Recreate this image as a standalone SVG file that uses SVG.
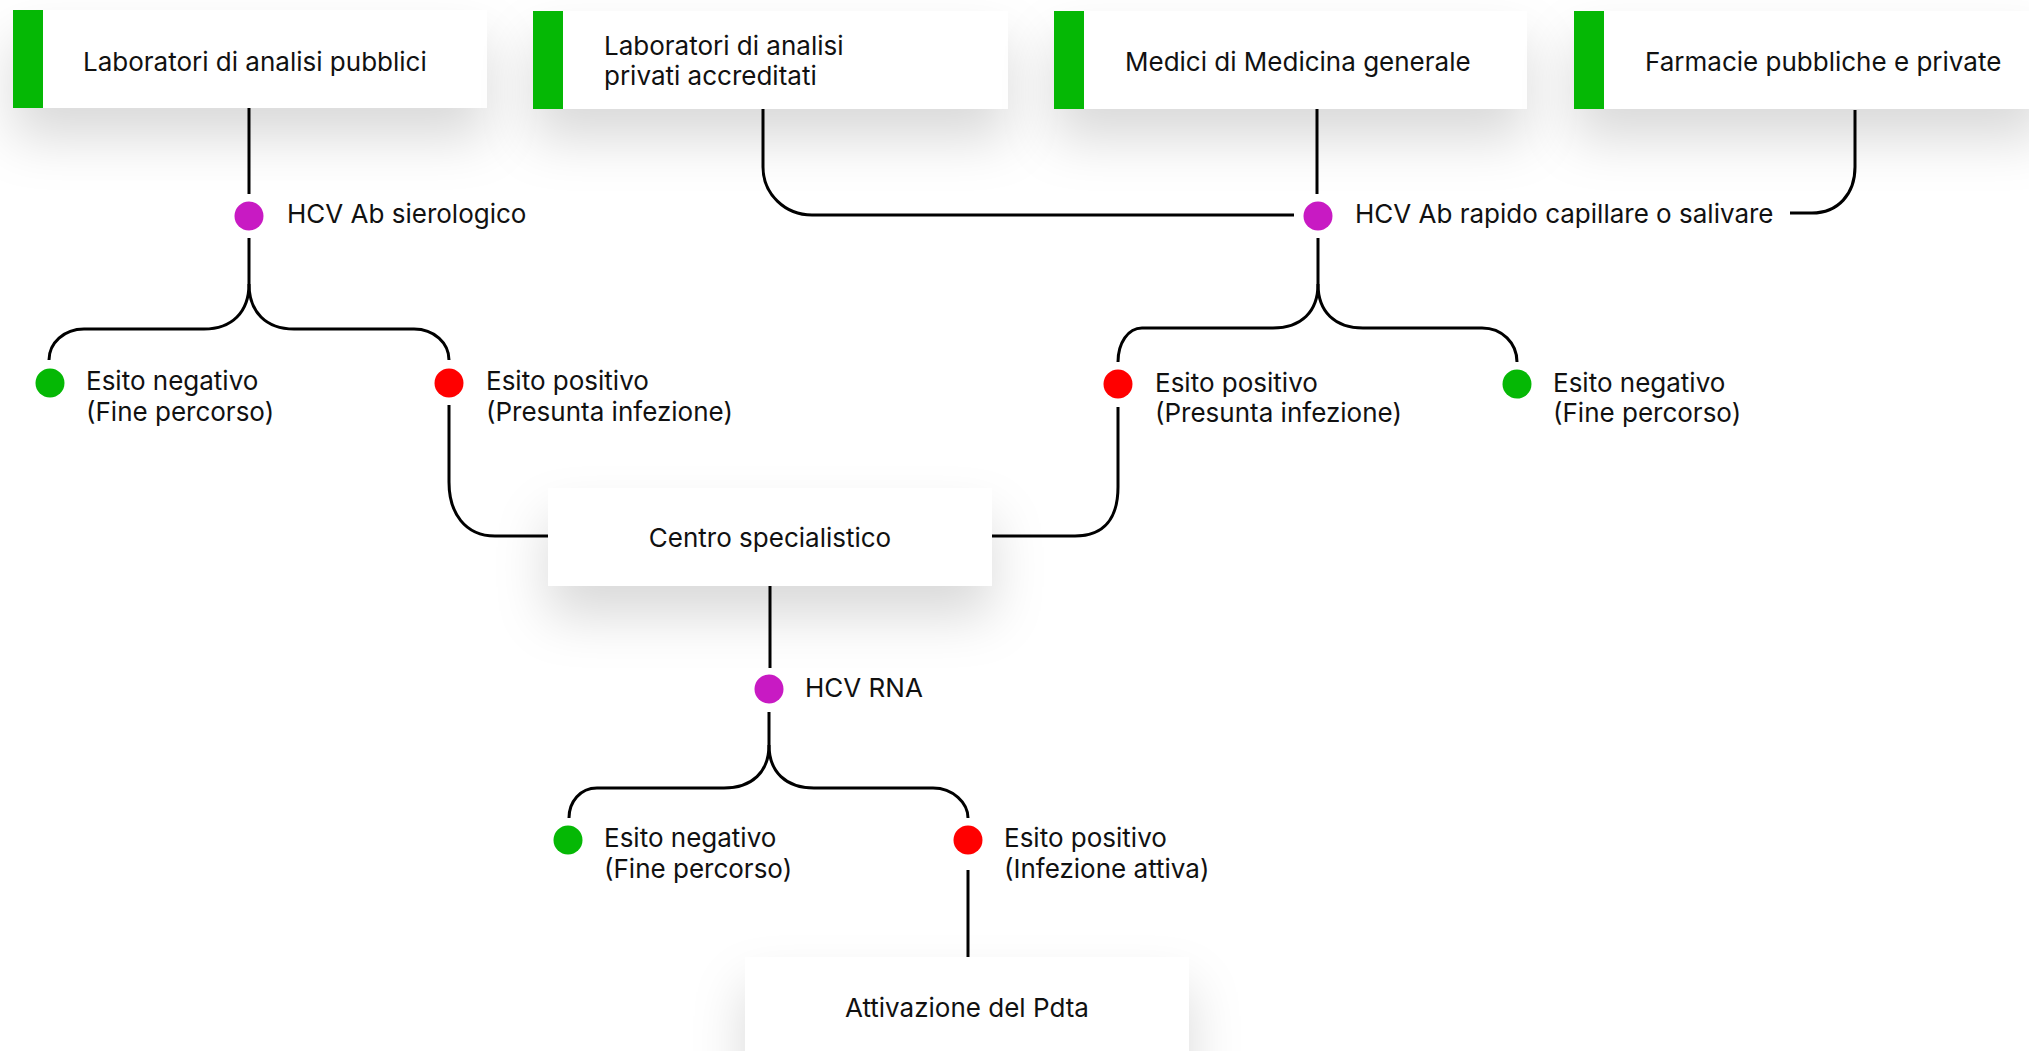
<svg xmlns="http://www.w3.org/2000/svg" width="2029" height="1051" viewBox="0 0 2029 1051">
<style>
.box{fill:#ffffff;filter:url(#sh)}
.bar{fill:#05B805}
.t{font-family:Inter,"Noto Sans","Liberation Sans",sans-serif;font-size:26px;fill:#111111}
.mid{text-anchor:middle}
.c{fill:none;stroke:#000000;stroke-width:3;stroke-linecap:butt}
.mag{fill:#C81AC3}
.red{fill:#FF0000}
.grn{fill:#05B805}
</style>
<defs>
<filter id="sh" x="-20%" y="-30%" width="140%" height="230%">
<feDropShadow dx="0" dy="30" stdDeviation="26" flood-color="#000000" flood-opacity="0.15"/>
</filter>
</defs>
<rect x="0" y="0" width="2029" height="1051" fill="#ffffff"/>

<g id="connectors">
<path class="c" d="M249,108 V194"/>
<path class="c" d="M249,238 V284 C249,312 232,329 204,329 H84 C64,329 49,343 49,360"/>
<path class="c" d="M249,284 C249,312 266,329 294,329 H414 C434,329 449,343 449,360"/>
<path class="c" d="M449,405 V482 C449,513 465,536 495,536 H548"/>
<path class="c" d="M1118,407 V487 C1118,517 1105,536 1075,536 H992"/>
<path class="c" d="M763,109 V167 C763,194 785,215 812,215 H1294"/>
<path class="c" d="M1317,108 V194"/>
<path class="c" d="M1855,110 V167 C1855,194 1838,213 1812,213 H1790"/>
<path class="c" d="M1318,238 V284 C1318,312 1301,328 1273,328 H1142 C1128,328 1118,343 1118,362"/>
<path class="c" d="M1318,284 C1318,312 1335,328 1363,328 H1482 C1502,328 1517,343 1517,362"/>
<path class="c" d="M770,586 V668"/>
<path class="c" d="M769,712 V745 C769,772 752,788 724,788 H597 C580,788 569,802 569,818"/>
<path class="c" d="M769,745 C769,772 786,788 814,788 H933 C953,788 968,803 968,818"/>
<path class="c" d="M968,870 V957"/>
</g>

<g id="box-lab-pubblici">
<rect class="box" x="13" y="10" width="474" height="98"/>
<rect class="bar" x="13" y="10" width="30" height="98"/>
<text class="t" x="83" y="71">Laboratori di analisi pubblici</text>
</g>
<g id="box-lab-privati">
<rect class="box" x="533" y="11" width="475" height="98"/>
<rect class="bar" x="533" y="11" width="30" height="98"/>
<text class="t" x="604" y="55">Laboratori di analisi</text>
<text class="t" x="604" y="85">privati accreditati</text>
</g>
<g id="box-medici">
<rect class="box" x="1054" y="11" width="473" height="98"/>
<rect class="bar" x="1054" y="11" width="30" height="98"/>
<text class="t" x="1125" y="71">Medici di Medicina generale</text>
</g>
<g id="box-farmacie">
<rect class="box" x="1574" y="11" width="470" height="98"/>
<rect class="bar" x="1574" y="11" width="30" height="98"/>
<text class="t" x="1645" y="71">Farmacie pubbliche e private</text>
</g>

<g id="test-hcv-ab-sierologico">
<circle class="mag" cx="249" cy="216" r="14.5"/>
<text class="t" x="287" y="223">HCV Ab sierologico</text>
</g>
<g id="test-hcv-ab-rapido">
<circle class="mag" cx="1318" cy="216" r="14.5"/>
<text class="t" x="1355" y="223">HCV Ab rapido capillare o salivare</text>
</g>

<g id="esito-neg-1">
<circle class="grn" cx="50" cy="383" r="14.5"/>
<text class="t" x="86" y="390">Esito negativo</text>
<text class="t" x="86" y="421">(Fine percorso)</text>
</g>
<g id="esito-pos-1">
<circle class="red" cx="449" cy="383" r="14.5"/>
<text class="t" x="486" y="390">Esito positivo</text>
<text class="t" x="486" y="421">(Presunta infezione)</text>
</g>
<g id="esito-pos-2">
<circle class="red" cx="1118" cy="384" r="14.5"/>
<text class="t" x="1155" y="392">Esito positivo</text>
<text class="t" x="1155" y="422">(Presunta infezione)</text>
</g>
<g id="esito-neg-2">
<circle class="grn" cx="1517" cy="384" r="14.5"/>
<text class="t" x="1553" y="392">Esito negativo</text>
<text class="t" x="1553" y="422">(Fine percorso)</text>
</g>

<g id="box-centro">
<rect class="box" x="548" y="488" width="444" height="98"/>
<text class="t mid" x="770" y="547">Centro specialistico</text>
</g>

<g id="test-hcv-rna">
<circle class="mag" cx="769" cy="689" r="14.5"/>
<text class="t" x="805" y="697">HCV RNA</text>
</g>

<g id="esito-neg-3">
<circle class="grn" cx="568" cy="840" r="14.5"/>
<text class="t" x="604" y="847">Esito negativo</text>
<text class="t" x="604" y="878">(Fine percorso)</text>
</g>
<g id="esito-pos-3">
<circle class="red" cx="968" cy="840" r="14.5"/>
<text class="t" x="1004" y="847">Esito positivo</text>
<text class="t" x="1004" y="878">(Infezione attiva)</text>
</g>

<g id="box-attivazione">
<rect class="box" x="745" y="957" width="444" height="110"/>
<text class="t mid" x="967" y="1017">Attivazione del Pdta</text>
</g>
</svg>
